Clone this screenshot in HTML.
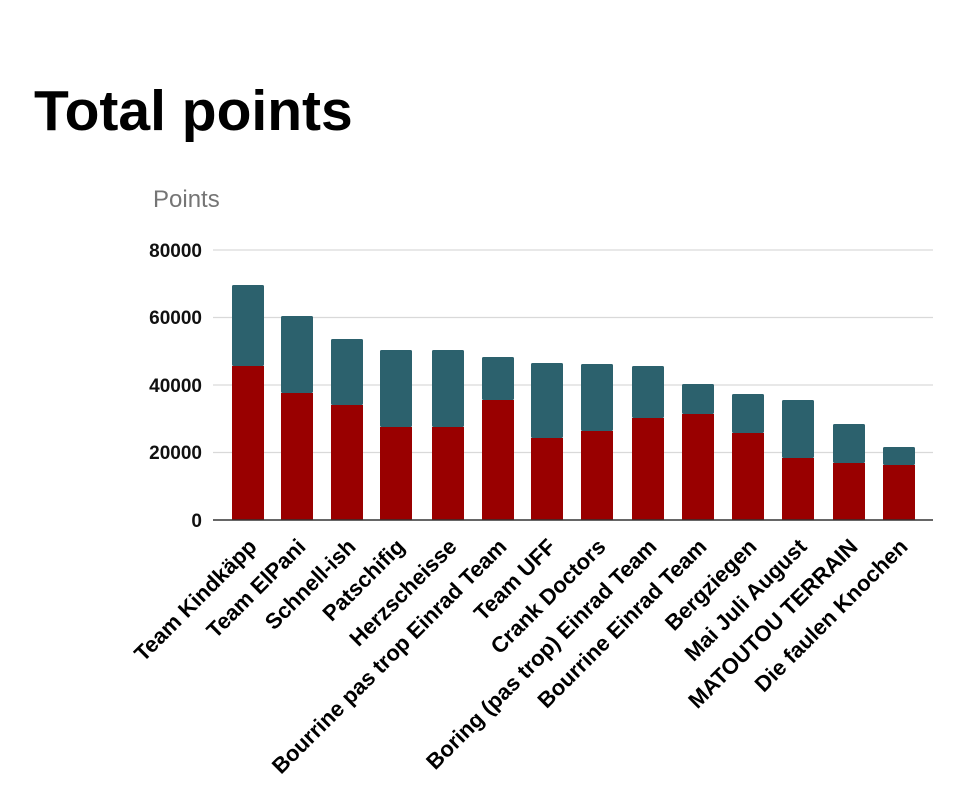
<!DOCTYPE html>
<html><head><meta charset="utf-8"><style>
html,body{margin:0;padding:0;background:#fff;width:957px;height:803px;overflow:hidden}
svg{display:block;font-family:"Liberation Sans",Arial,sans-serif}
</style></head><body>
<svg width="957" height="803" viewBox="0 0 957 803">
<text x="34" y="130" font-size="57" font-weight="bold" fill="#000">Total points</text>
<text x="153" y="207" font-size="24" fill="#757575">Points</text>
<g stroke="#d9d9d9" stroke-width="1.3">
<line x1="213" x2="933" y1="250" y2="250"/>
<line x1="213" x2="933" y1="317.5" y2="317.5"/>
<line x1="213" x2="933" y1="385" y2="385"/>
<line x1="213" x2="933" y1="452.5" y2="452.5"/>
</g>
<g font-size="19" font-weight="bold" text-anchor="end" fill="#111">
<text x="202" y="257">80000</text>
<text x="202" y="324">60000</text>
<text x="202" y="392">40000</text>
<text x="202" y="459">20000</text>
<text x="202" y="527">0</text>
</g>
<g id="bars"></g>
<line x1="213" x2="933" y1="520" y2="520" stroke="#333" stroke-width="1.5"/>
<g id="labels" font-size="22" font-weight="bold" text-anchor="end" fill="#000"></g>
</svg>
<script>
var d=[["Team Kindkäpp",232,285,366],["Team ElPani",281,316,393],["Schnell-ish",331,339,405],["Patschifig",380,350,427],["Herzscheisse",432,350,427],["Bourrine pas trop Einrad Team",482,357,400],["Team UFF",531,363,438],["Crank Doctors",581,364,431],["Boring (pas trop) Einrad Team",632,366,418],["Bourrine Einrad Team",682,384,414],["Bergziegen",732,394,433],["Mai Juli August",782,400,458],["MATOUTOU TERRAIN",833,424,463],["Die faulen Knochen",883,447,465]];
var ns="http://www.w3.org/2000/svg",b=document.getElementById("bars"),l=document.getElementById("labels");
d.forEach(function(e){
 var r=document.createElementNS(ns,"rect");r.setAttribute("x",e[1]);r.setAttribute("width",32);r.setAttribute("y",e[2]);r.setAttribute("height",e[3]-e[2]);r.setAttribute("fill","#2c616d");r.setAttribute("rx",1.5);b.appendChild(r);
 var r2=document.createElementNS(ns,"rect");r2.setAttribute("x",e[1]);r2.setAttribute("width",32);r2.setAttribute("y",e[3]);r2.setAttribute("height",520-e[3]);r2.setAttribute("fill","#990000");b.appendChild(r2);
 var t=document.createElementNS(ns,"text");var cx=e[1]+16;t.setAttribute("transform","translate("+(cx+10)+",548) rotate(-45)");t.textContent=e[0];l.appendChild(t);
});
</script>
</body></html>
